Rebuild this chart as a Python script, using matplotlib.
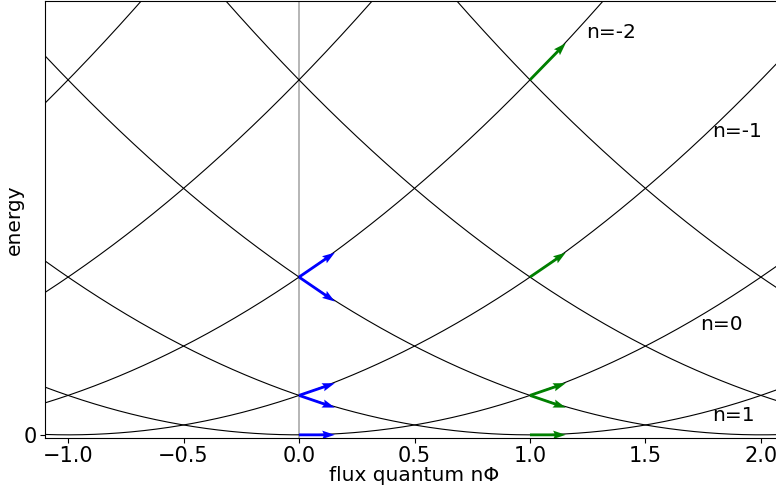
import numpy as np
import matplotlib
matplotlib.use("Agg")
import matplotlib.pyplot as plt

# parabola centres E = (phi - n)^2
centres = [-4, -3, -2, -1, 0, 1, 2, 3, 4]

# arrows: (phi, n) -> tangent of curve n at phi
blue_phi = [0, 0, 0, 0, 0]
blue_n = [0, -1, 1, -2, 2]
green_phi = [1, 1, 1, 1, 1]
green_n = [1, 0, 2, -1, -2]
arrow_dx = 0.155

labels = ["n=-2", "n=-1", "n=0", "n=1"]
label_x = [1.245, 1.79, 1.735, 1.79]
label_y = [10.2, 7.68, 2.8, 0.5]

xlim = (-1.1, 2.1)
ylim = (-0.08, 11)

fig = plt.figure(figsize=(7.76, 4.92), dpi=100)
ax = fig.add_axes([45 / 776, 54 / 492, 739 / 776, 437 / 492])

phi = np.linspace(xlim[0], xlim[1], 600)
for n in centres:
    ax.plot(phi, (phi - n) ** 2, color="black", lw=0.8)

ax.axvline(0, color="darkgray", lw=1.2, zorder=1)


def draw_arrows(xs, ns, color):
    xs = np.array(xs, dtype=float)
    ns = np.array(ns, dtype=float)
    ys = (xs - ns) ** 2
    slope = 2 * (xs - ns)
    u = np.full_like(xs, arrow_dx)
    v = arrow_dx * slope
    ax.quiver(xs, ys, u, v, color=color, angles="xy", scale_units="xy",
              scale=1, width=0.0038, headwidth=3, headlength=4.5,
              headaxislength=4, zorder=3)


draw_arrows(blue_phi, blue_n, "blue")
draw_arrows(green_phi, green_n, "green")

for txt, lx, ly in zip(labels, label_x, label_y):
    ax.text(lx, ly, txt, fontsize=14.5, ha="left", va="center")

ax.set_xlim(*xlim)
ax.set_ylim(*ylim)
ax.set_yticks([0])
ax.set_xticks([-1.0, -0.5, 0.0, 0.5, 1.0, 1.5, 2.0])
ax.tick_params(labelsize=15)
ax.tick_params(axis="x", pad=2)
ax.tick_params(axis="y", pad=2)
ax.set_xlabel("flux quantum n\u03a6", fontsize=14.5, labelpad=0)
ax.set_ylabel("energy", fontsize=14.5, labelpad=0)

fig.savefig("out.png", dpi=100)
